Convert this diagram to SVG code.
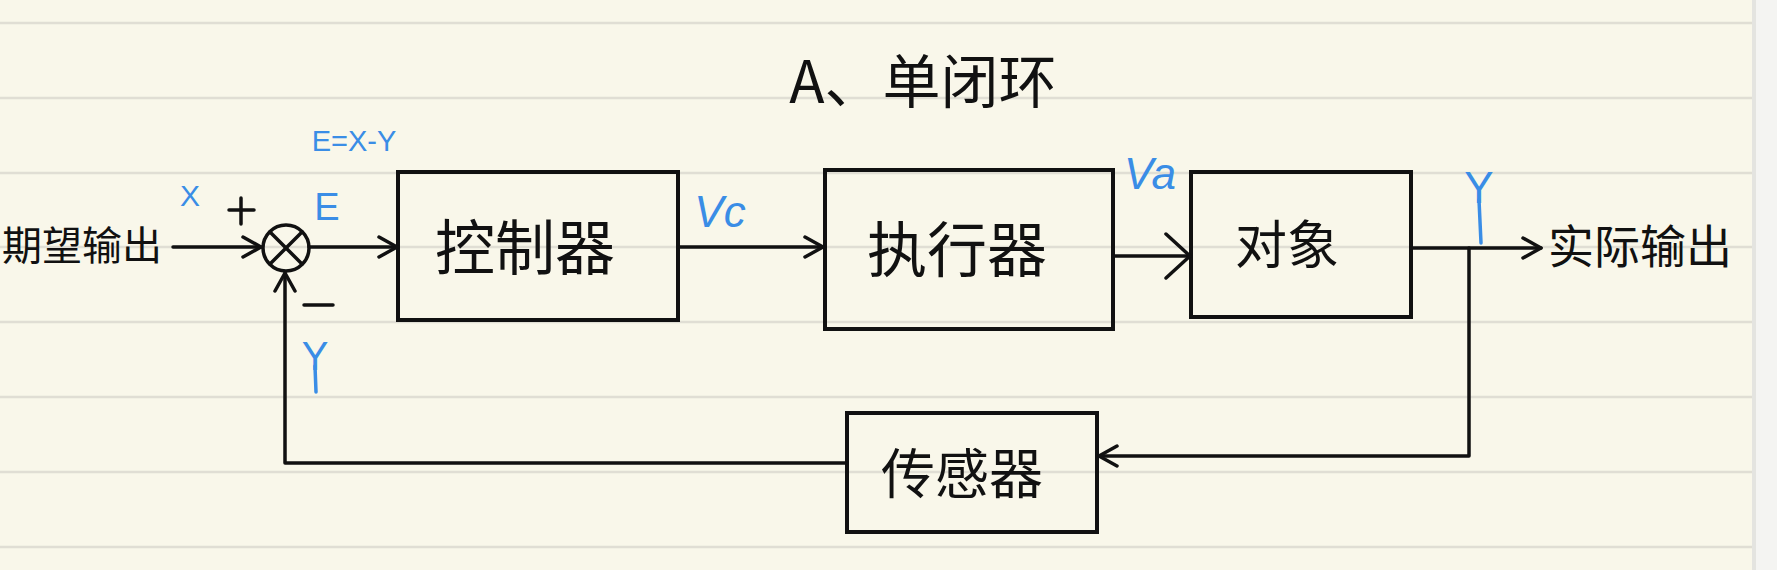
<svg xmlns="http://www.w3.org/2000/svg" width="1777" height="570" viewBox="0 0 1777 570">
<style>
.rule{stroke:#e0ded4;stroke-width:2.5}
.box{fill:none;stroke:#111;stroke-width:4}
.ln{fill:none;stroke:#111;stroke-width:3.5;stroke-linecap:round;stroke-linejoin:round}
.cj{font-family:"Noto Sans CJK SC","Noto Sans",sans-serif;fill:#111}
.bl{font-family:"Liberation Sans",Arial,sans-serif;fill:#3a8de6}
.bk{font-family:"Liberation Sans",Arial,sans-serif;fill:#111}
</style>
<defs>
<marker id="ah" markerWidth="30" markerHeight="30" refX="20" refY="12" orient="auto" markerUnits="userSpaceOnUse">
<path d="M2,2 L20,12 L2,22" fill="none" stroke="#111" stroke-width="3.5" stroke-linecap="round" stroke-linejoin="round"/>
</marker>
<marker id="ahb" markerWidth="34" markerHeight="50" refX="26" refY="25" orient="auto" markerUnits="userSpaceOnUse">
<path d="M2,3 L26,25 L2,47" fill="none" stroke="#111" stroke-width="3.5" stroke-linecap="round" stroke-linejoin="round"/>
</marker>
</defs>
<g id="page">
<rect x="0" y="0" width="1777" height="570" fill="#f9f7ea"/>
<rect x="1752" y="0" width="25" height="570" fill="#f4f4f2"/>
<rect x="1752" y="0" width="4" height="570" fill="#e4e4e0"/>
<line class="rule" x1="0" y1="23" x2="1752" y2="23"/>
<line class="rule" x1="0" y1="98" x2="1752" y2="98"/>
<line class="rule" x1="0" y1="173" x2="1752" y2="173"/>
<line class="rule" x1="0" y1="247" x2="1752" y2="247"/>
<line class="rule" x1="0" y1="322" x2="1752" y2="322"/>
<line class="rule" x1="0" y1="397" x2="1752" y2="397"/>
<line class="rule" x1="0" y1="472" x2="1752" y2="472"/>
<line class="rule" x1="0" y1="547" x2="1752" y2="547"/>
</g>
<g id="title"><text class="cj" x="923" y="103" font-size="58" text-anchor="middle">A、单闭环</text></g>
<g id="input"><text class="cj" x="2" y="260" font-size="40">期望输出</text></g>
<g id="output"><text class="cj" x="1548" y="263" font-size="46">实际输出</text></g>
<g id="sum">
<circle cx="286" cy="248" r="23" fill="none" stroke="#111" stroke-width="3.5"/>
<line class="ln" x1="270" y1="232" x2="302" y2="264"/>
<line class="ln" x1="302" y1="232" x2="270" y2="264"/>
<line class="ln" x1="229" y1="210" x2="254" y2="210"/>
<line class="ln" x1="241" y1="198" x2="241" y2="224"/>
<line class="ln" x1="304" y1="305" x2="333" y2="305"/>
</g>
<g id="controller">
<rect class="box" x="398" y="172" width="280" height="148"/>
<text class="cj" x="525" y="270" font-size="60" text-anchor="middle">控制器</text>
</g>
<g id="actuator">
<rect class="box" x="825" y="170" width="288" height="159"/>
<text class="cj" x="957" y="272" font-size="60" text-anchor="middle">执行器</text>
</g>
<g id="plant">
<rect class="box" x="1191" y="172" width="220" height="145"/>
<text class="cj" x="1287" y="264" font-size="52" text-anchor="middle">对象</text>
</g>
<g id="sensor">
<rect class="box" x="847" y="413" width="250" height="119"/>
<text class="cj" x="962" y="494" font-size="54" text-anchor="middle">传感器</text>
</g>
<g id="connectors">
<line class="ln" x1="173" y1="247" x2="261" y2="247" marker-end="url(#ah)"/>
<line class="ln" x1="309" y1="247" x2="397" y2="247" marker-end="url(#ah)"/>
<line class="ln" x1="678" y1="247" x2="823" y2="247" marker-end="url(#ah)"/>
<line class="ln" x1="1113" y1="256" x2="1190" y2="256" marker-end="url(#ahb)"/>
<line class="ln" x1="1411" y1="248" x2="1541" y2="248" marker-end="url(#ah)"/>
<polyline class="ln" points="1469,248 1469,456 1099,456" marker-end="url(#ah)"/>
<polyline class="ln" points="847,463 285,463 285,273" marker-end="url(#ah)"/>
</g>
<g id="labels">
<text class="bl" x="190" y="206" font-size="30" text-anchor="middle">X</text>
<text class="bl" x="327" y="220" font-size="38" text-anchor="middle">E</text>
<text class="bl" x="354" y="151" font-size="29" text-anchor="middle">E=X-Y</text>
<text class="bl" x="720" y="227" font-size="44" font-style="italic" text-anchor="middle">Vc</text>
<text class="bl" x="1150" y="189" font-size="44" font-style="italic" text-anchor="middle">Va</text>
<text class="bl" x="1479" y="203" font-size="44" text-anchor="middle">Y</text>
<line x1="1479" y1="200" x2="1481" y2="243" stroke="#3a8de6" stroke-width="3.5" stroke-linecap="round"/>
<text class="bl" x="315" y="370" font-size="40" text-anchor="middle">Y</text>
<line x1="315" y1="366" x2="316" y2="392" stroke="#3a8de6" stroke-width="3.5" stroke-linecap="round"/>
</g>
</svg>
